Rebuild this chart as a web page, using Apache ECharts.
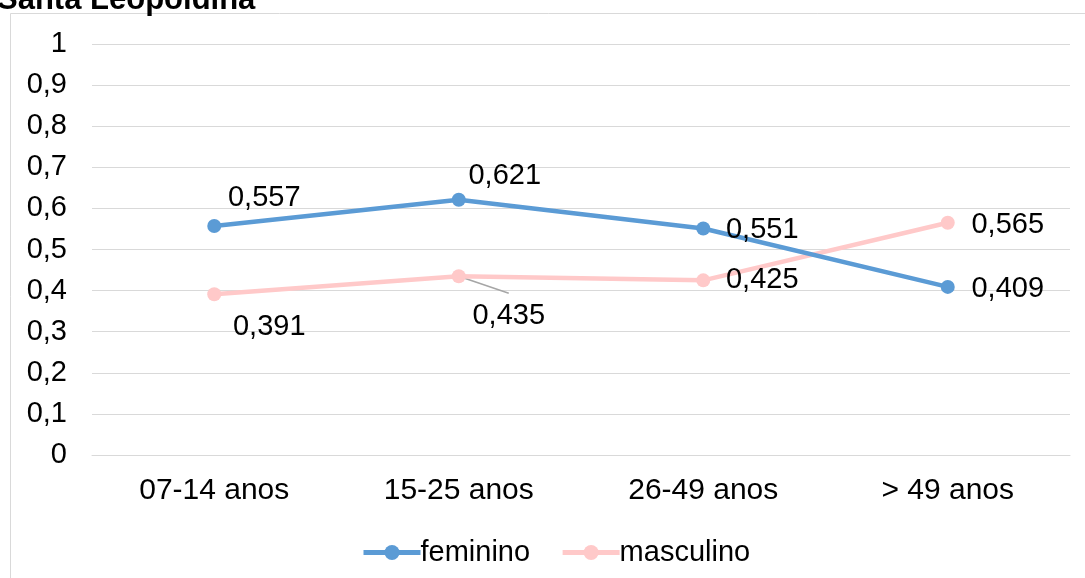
<!DOCTYPE html>
<html>
<head>
<meta charset="utf-8">
<script src="https://cdn.jsdelivr.net/npm/echarts@6/dist/echarts.min.js"></script>
<style>
  html, body { margin: 0; padding: 0; background: #fff; }
  #chart { width: 1085px; height: 578px; }
</style>
</head>
<body>
<div id="chart"></div>
<script>
const titleText = 'Santa Leopoldina';
const categories = ['07-14 anos', '15-25 anos', '26-49 anos', '> 49 anos'];
const feminino = [0.557, 0.621, 0.551, 0.409];
const masculino = [0.391, 0.435, 0.425, 0.565];
// label offsets (px) from each point, per series
const femOffsets = [[50, -28], [46, -24], [59, 1], [60, 2]];
const mascOffsets = [[55, 33], [50, 40], [59, 0], [60, 2]];

const fmt = v => v.toFixed(3).replace('.', ',');
const FONT = 'Liberation Sans, Arial, sans-serif';
const FS = 29;
const BLUE = '#5B9BD5';
const PINK = '#FFC9C9';

function buildData(values, offsets) {
  return values.map((v, i) => ({
    value: v,
    label: { position: 'inside', offset: offsets[i] }
  }));
}

function frameAndTitle() {
  return [
    {
      type: 'rect',
      shape: { x: 10.5, y: 13.5, width: 1100, height: 600 },
      style: { fill: 'none', stroke: '#D9D9D9', lineWidth: 1 },
      silent: true, z: 0
    },
    {
      type: 'text',
      left: -3, top: -15,
      style: { text: titleText, font: 'bold 31px ' + FONT, fill: '#000' },
      z: 10
    }
  ];
}

const chart = echarts.init(document.getElementById('chart'), null, { renderer: 'canvas' });
chart.setOption({
  animation: false,
  backgroundColor: '#ffffff',
  graphic: frameAndTitle(),
  grid: { left: 92, right: 15, top: 44, bottom: 123 },
  legend: {
    bottom: 6,
    left: 356,
    itemWidth: 57,
    itemHeight: 19,
    itemGap: 30,
    textStyle: { fontFamily: FONT, fontSize: FS, color: '#000', padding: [0, 0, 0, -5] },
    data: [
      { name: 'feminino', lineStyle: { width: 5, color: BLUE } },
      { name: 'masculino', lineStyle: { width: 5, color: PINK } }
    ]
  },
  xAxis: {
    type: 'category',
    data: categories,
    boundaryGap: true,
    axisLine: { show: true, lineStyle: { color: '#D9D9D9', width: 1 } },
    axisTick: { show: false },
    axisLabel: { fontFamily: FONT, fontSize: 30, color: '#000', margin: 21 }
  },
  yAxis: {
    type: 'value',
    min: 0, max: 1, interval: 0.1,
    axisLine: { show: false },
    axisTick: { show: false },
    splitLine: { lineStyle: { color: '#D9D9D9', width: 1 } },
    axisLabel: {
      fontFamily: FONT, fontSize: FS, color: '#000', margin: 25,
      formatter: v => (Math.round(v * 10) / 10).toString().replace('.', ',')
    }
  },
  series: [
    {
      name: 'feminino',
      type: 'line',
      data: buildData(feminino, femOffsets),
      color: BLUE,
      lineStyle: { width: 4.5, color: BLUE },
      symbol: 'circle', symbolSize: 14,
      itemStyle: { color: BLUE },
      label: {
        show: true, fontFamily: FONT, fontSize: FS, color: '#000',
        formatter: p => fmt(p.value)
      },
      z: 3
    },
    {
      name: 'masculino',
      type: 'line',
      data: buildData(masculino, mascOffsets),
      color: PINK,
      lineStyle: { width: 4.5, color: PINK },
      symbol: 'circle', symbolSize: 14,
      itemStyle: { color: PINK },
      label: {
        show: true, fontFamily: FONT, fontSize: FS, color: '#000',
        formatter: p => fmt(p.value)
      },
      z: 2
    }
  ]
});

// leader line from the 15-25 anos masculino point towards its label
const p = chart.convertToPixel({ seriesIndex: 1 }, [1, masculino[1]]);
chart.setOption({
  graphic: frameAndTitle().concat([
    {
      type: 'line',
      shape: { x1: p[0], y1: p[1], x2: p[0] + 50, y2: p[1] + 17 },
      style: { stroke: '#A6A6A6', lineWidth: 1.5 },
      silent: true, z: 1
    }
  ])
}, { replaceMerge: ['graphic'] });
</script>
</body>
</html>
